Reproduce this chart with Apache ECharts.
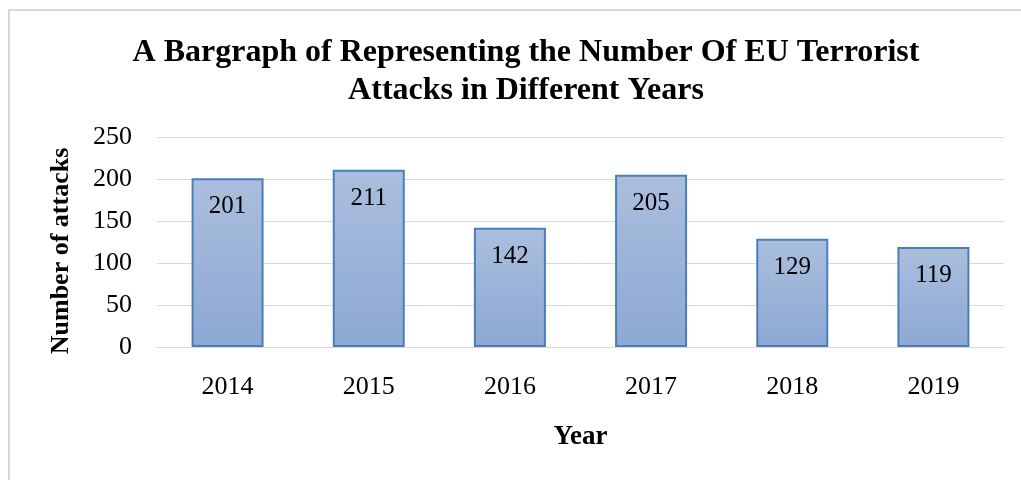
<!DOCTYPE html>
<html><head><meta charset="utf-8">
<script src="https://cdn.jsdelivr.net/npm/echarts@6/dist/echarts.min.js"></script>
<style>html,body{margin:0;padding:0;background:#fff}#c{width:1021px;height:480px}</style>
</head><body><div id="c"></div>
<script>
const years = ['2014','2015','2016','2017','2018','2019'];
const attacks = [201, 211, 142, 205, 129, 119];
const yTicks = [0, 50, 100, 150, 200, 250];

const chart = echarts.init(document.getElementById('c'));
const serif = '"Liberation Serif", "Times New Roman", serif';
chart.setOption({
  backgroundColor: '#fff',
  animation: false,
  graphic: [
    {type:'rect', shape:{x:9, y:10, width:1100, height:600}, style:{fill:'none', stroke:'#d9d9d9', lineWidth:2}, silent:true},
    {type:'text', x:61, y:251, rotation: Math.PI/2, silent:true,
     style:{text:'Number of attacks', fontFamily: serif, fontWeight:'bold', fontSize:26, fill:'#000', align:'center', verticalAlign:'middle'}}
  ],
  title: {
    text: 'A Bargraph of Representing the Number Of EU Terrorist\nAttacks in Different Years',
    left: 521, top: 29, textAlign: 'center',
    textStyle: {fontFamily: serif, fontWeight: 'bold', fontSize: 32, color: '#000', lineHeight: 38}
  },
  grid: {left: 157, right: 17, top: 137, bottom: 133},
  xAxis: {
    type: 'category', data: years,
    name: 'Year', nameLocation: 'middle', nameGap: 77,
    nameTextStyle: {fontFamily: serif, fontWeight: 'bold', fontSize: 27, color: '#000'},
    axisLine: {lineStyle: {color: '#d9d9d9', width: 1}},
    axisTick: {show: false},
    axisLabel: {fontFamily: serif, fontSize: 26, color: '#000', margin: 27}
  },
  yAxis: {
    type: 'value', min: yTicks[0], max: yTicks[yTicks.length-1], interval: 50,
    axisLine: {show: false}, axisTick: {show: false},
    axisLabel: {fontFamily: serif, fontSize: 26, color: '#000', margin: 25},
    splitLine: {lineStyle: {color: '#d9d9d9', width: 1}}
  },
  series: [{
    type: 'bar', data: attacks, barWidth: '51%',
    itemStyle: {
      color: new echarts.graphic.LinearGradient(0,0,0,1,[{offset:0,color:'#abbedd'},{offset:1,color:'#8ca8d4'}]),
      borderColor: '#4a7ebb', borderWidth: 2
    },
    label: {show: true, position: 'insideTop', distance: 16, fontFamily: serif, fontSize: 25, color: '#000'}
  }]
});
</script></body></html>
